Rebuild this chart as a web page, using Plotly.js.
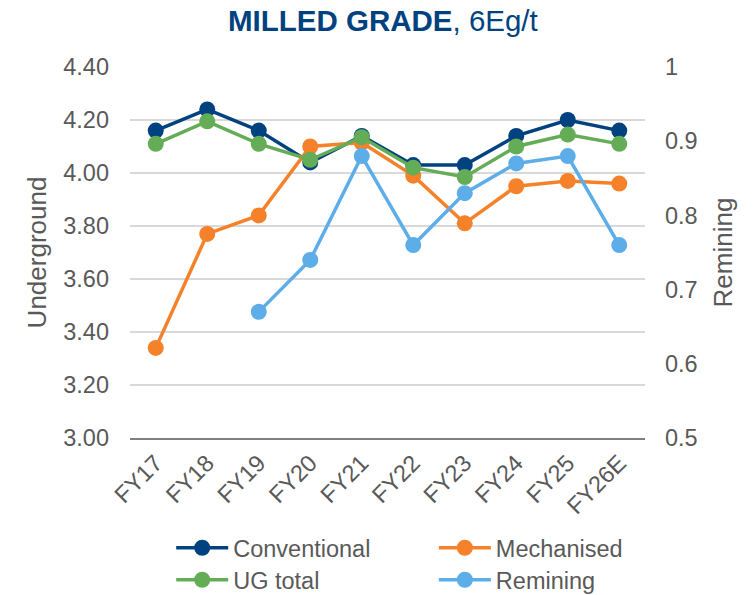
<!DOCTYPE html>
<html>
<head>
<meta charset="utf-8">
<script src="https://cdn.plot.ly/plotly-3.0.1.min.js"></script>
<style>html,body{margin:0;padding:0;background:#fff;}#chart{width:756px;height:595px;}</style>
</head>
<body>
<div id="chart"></div>
<script>
const categories = ["FY17","FY18","FY19","FY20","FY21","FY22","FY23","FY24","FY25","FY26E"];
const conventional = [4.16, 4.24, 4.16, 4.04, 4.14, 4.03, 4.03, 4.14, 4.20, 4.16];
const mechanised   = [3.34, 3.77, 3.84, 4.10, 4.115, 3.99, 3.81, 3.95, 3.97, 3.96];
const ugTotal      = [4.11, 4.195, 4.11, 4.05, 4.135, 4.02, 3.985, 4.10, 4.145, 4.11];
const remining     = [null, null, 0.67, 0.74, 0.88, 0.76, 0.83, 0.87, 0.88, 0.76];

const font = 'Liberation Sans, Arial, sans-serif';
function tr(name, y, color, axis, leg) {
  return {
    type: 'scatter', mode: 'lines+markers', name: name,
    x: categories, y: y, yaxis: axis, legend: leg,
    line: {color: color, width: 3.5},
    marker: {color: color, size: 16},
    connectgaps: false
  };
}
const data = [
  tr('Conventional', conventional, '#00427f', 'y', 'legend'),
  tr('Mechanised', mechanised, '#f5822a', 'y', 'legend2'),
  tr('UG total', ugTotal, '#64ad56', 'y', 'legend3'),
  tr('Remining', remining, '#5cade8', 'y2', 'legend4')
];
const legFont = {size: 23.5, color: '#595959'};
function leg(x, y) {
  return {orientation: 'v', x: x, xanchor: 'left', y: y, yanchor: 'middle',
          font: legFont, itemwidth: 52, bgcolor: 'rgba(0,0,0,0)'};
}
const row1 = -(548 - 438) / 371, row2 = -(580 - 438) / 371;
const layout = {
  width: 756, height: 595,
  margin: {l: 130, r: 111, t: 67, b: 157, autoexpand: false},
  paper_bgcolor: '#ffffff', plot_bgcolor: '#ffffff',
  font: {family: font, color: '#595959', size: 23.5},
  title: {
    text: '<b>MILLED GRADE</b>, 6Eg/t',
    font: {family: font, size: 29.5, color: '#00427f'},
    x: 0.491, xanchor: 'center', xref: 'paper', y: 0.982, yanchor: 'top'
  },
  xaxis: {
    type: 'category', range: [-0.5, 9.5], tickangle: -45, automargin: false,
    showgrid: false, showline: true, linecolor: '#7f7f7f', linewidth: 2,
    ticks: '', tickfont: {size: 23.5, color: '#595959'}
  },
  yaxis: {
    range: [3.0, 4.4], dtick: 0.2, tickformat: '.2f', automargin: false,
    showgrid: true, gridcolor: '#d9d9d9', gridwidth: 2,
    zeroline: false, showline: false, ticks: '',
    ticklabelstandoff: 20,
    tickfont: {size: 23.5, color: '#595959'},
    title: {text: 'Underground', font: {size: 26, color: '#595959'}, standoff: 9}
  },
  yaxis2: {
    range: [0.5, 1.0], dtick: 0.1, overlaying: 'y', side: 'right', automargin: false,
    showgrid: false, zeroline: false, showline: false, ticks: '',
    ticklabelstandoff: 19,
    tickfont: {size: 23.5, color: '#595959'},
    title: {text: 'Remining', font: {size: 26, color: '#595959'}, standoff: 17}
  },
  showlegend: true,
  legend: leg(0.08, row1),
  legend2: leg(0.59, row1),
  legend3: leg(0.08, row2),
  legend4: leg(0.59, row2)
};
Plotly.newPlot('chart', data, layout, {displayModeBar: false, staticPlot: true});
</script>
</body>
</html>
